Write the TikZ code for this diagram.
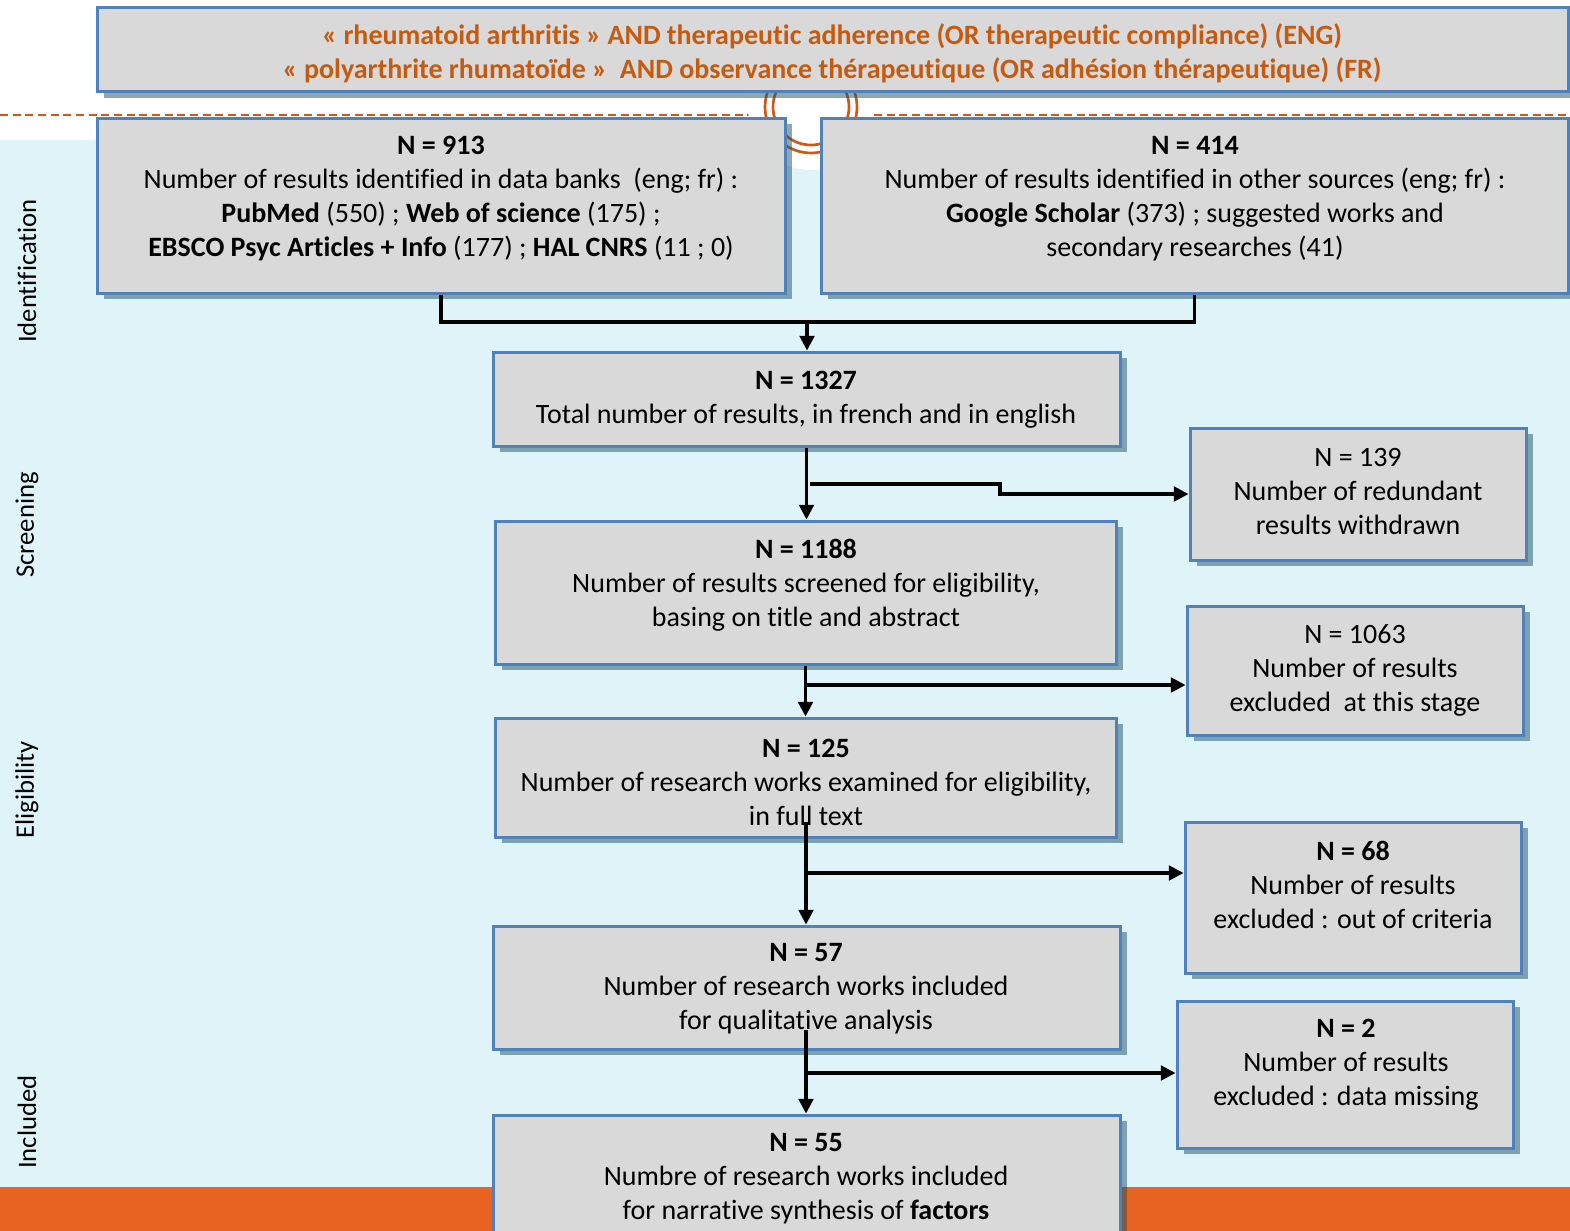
\documentclass[tikz,border=0pt]{standalone}
\usepackage{fontspec}
\setmainfont[Ligatures=NoCommon]{Carlito}
\usetikzlibrary{fit,arrows.meta}
\definecolor{boxfill}{RGB}{217,217,217}
\definecolor{boxline}{RGB}{79,129,189}
\definecolor{shadowc}{RGB}{32,82,99}
\definecolor{bgcyan}{RGB}{222,244,249}
\definecolor{barorange}{RGB}{232,99,31}
\definecolor{txtorange}{RGB}{197,90,17}
\definecolor{arcorange}{RGB}{208,88,22}
\begin{document}
\begin{tikzpicture}[x=0.75pt,y=-0.75pt,
  box/.style={draw=boxline, line width=2.25pt, fill=boxfill, inner sep=0pt,
    preaction={fill=shadowc, fill opacity=0.5, transform canvas={shift={(5pt,-4.5pt)}}}},
  txt/.style={align=center, inner sep=0pt, font=\fontsize{21}{25.5}\selectfont},
  side/.style={rotate=90, inner sep=0pt, font=\fontsize{20}{24}\selectfont},
  conn/.style={draw=black, line width=2.3pt},
  arr/.style={conn, -{Triangle[length=11pt,width=11pt]}}]
\useasboundingbox (0,0) rectangle (1570,1231);
% background
\fill[bgcyan] (0,140) rectangle (1570,1187);
\fill[barorange] (0,1187) rectangle (1570,1231);
\draw[arcorange, line width=1.5pt, dash pattern=on 6pt off 3.5pt] (0,115) -- (1570,115);
\fill[white] (811,107) circle[radius=63];
\draw[arcorange, line width=2pt] (811,107) circle[radius=38];
\draw[arcorange, line width=2pt] (811,107) circle[radius=46];
% boxes
\node[box, fit={(97,8) (1568,92)}] (btop) {};
\node[box, fit={(97,118) (785,293)}] (b913) {};
\node[box, fit={(821,118) (1568,293)}] (b414) {};
\node[box, fit={(493,352) (1120,446)}] (b1327) {};
\node[box, fit={(1190,428) (1526,560)}] (b139) {};
\node[box, fit={(495,521) (1116,664)}] (b1188) {};
\node[box, fit={(1187,606) (1523,735)}] (b1063) {};
\node[box, fit={(495,718) (1116,837)}] (b125) {};
\node[box, fit={(1185,822) (1521,973)}] (b68) {};
\node[box, fit={(493,926) (1120,1049)}] (b57) {};
\node[box, fit={(1177,1001) (1513,1148)}] (b2) {};
\node[box, fit={(493,1115) (1120,1260)}] (b55) {};
% texts
\node[txt, text=txtorange, font=\fontsize{21}{25.5}\selectfont\bfseries] (ttop) at (832,53)
  {« rheumatoid arthritis » AND therapeutic adherence (OR therapeutic compliance) (ENG)\\
   « polyarthrite rhumatoïde »\ \ AND observance thérapeutique (OR adhésion thérapeutique) (FR)};
\node[txt] (t913) at (441,199) {\textbf{N = 913}\\Number of results identified in data banks\ \ (eng; fr) :\\
  \textbf{PubMed} (550) ; \textbf{Web of science} (175) ;\\
  \textbf{EBSCO Psyc Articles + Info} (177) ; \textbf{HAL CNRS} (11 ; 0)};
\node[txt] (t414) at (1195,199) {\textbf{N = 414}\\Number of results identified in other sources (eng; fr) :\\
  \textbf{Google Scholar} (373) ; suggested works and\\secondary researches (41)};
\node[txt] (t1327) at (806,400) {\textbf{N = 1327}\\Total number of results, in french and in english};
\node[txt] (t139) at (1358,492) {N = 139\\Number of redundant\\results withdrawn};
\node[txt] (t1188) at (806,585) {\textbf{N = 1188}\\Number of results screened for eligibility,\\basing on title and abstract};
\node[txt] (t1063) at (1355,670) {N = 1063\\Number of results\\excluded\ \ at this stage};
\node[txt] (t125) at (806,782) {\textbf{N = 125}\\Number of research works examined for eligibility,\\in full text};
\node[txt] (t68) at (1353,885) {\textbf{N = 68}\\Number of results\\excluded : out of criteria};
\node[txt] (t57) at (806,989) {\textbf{N = 57}\\Number of research works included\\for qualitative analysis};
\node[txt] (t2) at (1346,1065) {\textbf{N = 2}\\Number of results\\excluded : data missing};
\node[txt] (t55) at (806,1179) {\textbf{N = 55}\\Numbre of research works included\\for narrative synthesis of \textbf{factors}};
% side labels
\node[side] (lid) at (27,271) {Identification};
\node[side] (lsc) at (27,525) {Screening};
\node[side] (lel) at (27,790) {Eligibility};
\node[side] (lin) at (27,1122) {Included};
% connectors
\coordinate (j1) at (807,322);
\draw[conn] (b913.south) |- (j1) -| (b414.south);
\draw[arr] (j1) -- (j1 |- b1327.north);
\draw[arr] (b1327.south) -- (b1188.north -| b1327.south);
\coordinate (k1) at (810,484);
\coordinate (k1b) at (1000,494);
\draw[arr] (k1) -- (k1 -| k1b) -- (k1b) -- (k1b -| b139.west);
\draw[arr] (b1188.south) -- (b125.north -| b1188.south);
\coordinate (k2) at (806,685);
\draw[arr] (k2) -- (k2 -| b1063.west);
\coordinate (s3) at (806,822);
\draw[arr] (s3) -- (s3 |- b57.north);
\coordinate (k3) at (806,873);
\draw[arr] (k3) -- (k3 -| b68.west);
\coordinate (s4) at (806,1030);
\draw[arr] (s4) -- (s4 |- b55.north);
\coordinate (k4) at (806,1073);
\draw[arr] (k4) -- (k4 -| b2.west);
\end{tikzpicture}
\end{document}
